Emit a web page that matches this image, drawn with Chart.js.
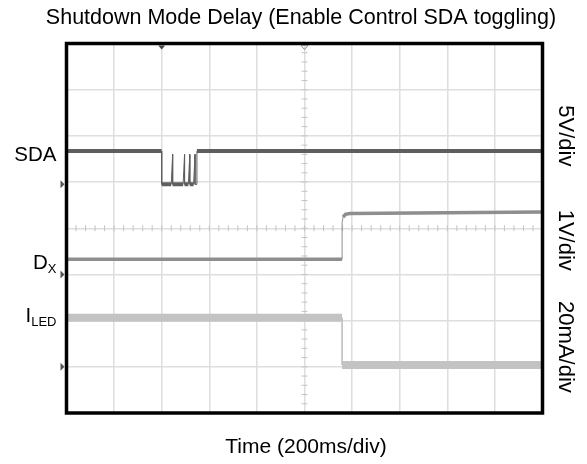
<!DOCTYPE html>
<html>
<head>
<meta charset="utf-8">
<script src="https://cdn.jsdelivr.net/npm/chart.js@4/dist/chart.umd.min.js"></script>
<style>
  html, body { margin: 0; padding: 0; background: #fff; }
</style>
</head>
<body>
<canvas id="scope" width="587" height="464"></canvas>
<script>
// time axis in divisions (200ms/div), levels in screen divisions from bottom
const sdaTimes  = [0, 2.0, 2.0, 2.20, 2.23, 2.23, 2.45, 2.48, 2.48, 2.56, 2.59, 2.59, 2.67, 2.70, 2.70, 2.74, 2.74, 10];
const sdaLevels = [5.67, 5.67, 4.95, 4.95, 5.6, 4.95, 4.95, 5.6, 4.95, 4.95, 5.6, 4.95, 4.95, 5.6, 4.95, 4.95, 5.67, 5.67];

const dxTimes  = [0, 5.79, 5.79, 5.81, 5.86, 5.95, 10];
const dxLevels = [3.33, 3.33, 4.12, 4.24, 4.30, 4.32, 4.35];

const iledTimes  = [0, 5.79, 5.79, 10];
const iledLevels = [2.06, 2.06, 1.04, 1.04];

// channel ground markers (left edge) and trigger markers (top edge)
const groundLevels = [4.95, 3.0, 1.0];
const triggerTimes = [2.0, 5.0];

const titleText = 'Shutdown Mode Delay (Enable Control SDA toggling)';
const xTitle = 'Time (200ms/div)';
const channelNames = [['SDA', ''], ['D', 'X'], ['I', 'LED']];
const channelNameLevels = [5.6, 3.28, 2.13];
const scaleLabels = ['5V/div', '1V/div', '20mA/div'];
const scaleLabelLevels = [6.0, 3.74, 1.43];

const FONT = '"Liberation Sans", Arial, sans-serif';

function toPoints(xs, ys) {
    return xs.map((t, i) => ({ x: t, y: ys[i] }));
}

// thin line for fast edges, thick for the level itself
function edgeWidth(thick) {
    return ctx => Math.abs(ctx.p1.parsed.x - ctx.p0.parsed.x) < 0.05 ? 1 : thick;
}

const scopeDecor = {
    id: 'scopeDecor',
    beforeDatasetsDraw(chart) {
        const { ctx, scales: { x, y } } = chart;
        const cx = x.getPixelForValue(5), cy = y.getPixelForValue(4);
        ctx.save();
        ctx.strokeStyle = '#c4c4c4';
        ctx.lineWidth = 1;
        ctx.beginPath();
        for (let k = 0; k <= 40; k++) {
            const py = y.getPixelForValue(k * 0.2);
            ctx.moveTo(cx - 3, py); ctx.lineTo(cx + 3, py);
        }
        for (let k = 0; k <= 50; k++) {
            const px = x.getPixelForValue(k * 0.2);
            ctx.moveTo(px, cy - 3); ctx.lineTo(px, cy + 3);
        }
        ctx.stroke();
        ctx.restore();
    },
    afterDraw(chart) {
        const { ctx, chartArea: a, scales: { x, y } } = chart;
        ctx.save();

        // frame
        ctx.strokeStyle = '#000';
        ctx.lineWidth = 3.5;
        ctx.strokeRect(a.left, a.top, a.right - a.left, a.bottom - a.top);

        // ground markers
        ctx.fillStyle = '#555';
        groundLevels.forEach(v => {
            const py = y.getPixelForValue(v);
            ctx.beginPath();
            ctx.moveTo(a.left - 6, py - 4);
            ctx.lineTo(a.left - 2, py);
            ctx.lineTo(a.left - 6, py + 4);
            ctx.closePath();
            ctx.fill();
        });

        // trigger markers
        triggerTimes.forEach((t, i) => {
            const px = x.getPixelForValue(t);
            ctx.beginPath();
            ctx.moveTo(px - 3.5, a.top + 2);
            ctx.lineTo(px + 3.5, a.top + 2);
            ctx.lineTo(px, a.top + 6);
            ctx.closePath();
            if (i === 0) { ctx.fillStyle = '#444'; ctx.fill(); }
            else { ctx.strokeStyle = '#888'; ctx.lineWidth = 1; ctx.stroke(); }
        });

        ctx.fillStyle = '#000';

        // title and time label
        ctx.textAlign = 'center';
        ctx.textBaseline = 'middle';
        ctx.font = '21.5px ' + FONT;
        ctx.fillText(titleText, 301, 18);
        ctx.font = '21px ' + FONT;
        ctx.fillText(xTitle, 306, 447);

        // channel names with subscripts
        channelNames.forEach(([main, sub], i) => {
            const py = y.getPixelForValue(channelNameLevels[i]);
            ctx.textBaseline = 'alphabetic';
            ctx.font = '13px ' + FONT;
            const subW = sub ? ctx.measureText(sub).width : 0;
            const right = a.left - 10;
            if (sub) {
                ctx.textAlign = 'right';
                ctx.fillText(sub, right, py + 11);
            }
            ctx.font = '20.5px ' + FONT;
            ctx.textAlign = 'right';
            ctx.fillText(main, right - subW, py + 7);
        });

        // vertical scale labels on the right
        ctx.font = '22px ' + FONT;
        ctx.textAlign = 'center';
        ctx.textBaseline = 'middle';
        scaleLabels.forEach((txt, i) => {
            ctx.save();
            ctx.translate(a.right + 23, y.getPixelForValue(scaleLabelLevels[i]));
            ctx.rotate(Math.PI / 2);
            ctx.fillText(txt, 0, 0);
            ctx.restore();
        });

        ctx.restore();
    }
};

new Chart(document.getElementById('scope'), {
    type: 'line',
    data: {
        datasets: [
            {
                label: 'ILED',
                data: toPoints(iledTimes, iledLevels),
                borderColor: '#c3c3c3',
                borderWidth: 8,
                segment: { borderWidth: edgeWidth(8) }
            },
            {
                label: 'DX',
                data: toPoints(dxTimes, dxLevels),
                borderColor: '#8e8e8e',
                borderWidth: 3.5,
                segment: { borderWidth: edgeWidth(3.5) }
            },
            {
                label: 'SDA',
                data: toPoints(sdaTimes, sdaLevels),
                borderColor: '#5e5e5e',
                borderWidth: 4,
                segment: { borderWidth: edgeWidth(4) }
            }
        ]
    },
    options: {
        responsive: false,
        animation: false,
        devicePixelRatio: 1,
        layout: { padding: { left: 66.5, right: 44.5, top: 43.5, bottom: 51 } },
        elements: { point: { radius: 0 }, line: { tension: 0, borderCapStyle: 'butt' } },
        plugins: {
            legend: { display: false },
            tooltip: { enabled: false }
        },
        scales: {
            x: {
                type: 'linear',
                min: 0, max: 10,
                border: { display: false },
                grid: { color: '#dedede', lineWidth: 1.5, drawTicks: false },
                ticks: { display: false, stepSize: 1 }
            },
            y: {
                type: 'linear',
                min: 0, max: 8,
                border: { display: false },
                grid: { color: '#dedede', lineWidth: 1.5, drawTicks: false },
                ticks: { display: false, stepSize: 1 }
            }
        }
    },
    plugins: [scopeDecor]
});
</script>
</body>
</html>
